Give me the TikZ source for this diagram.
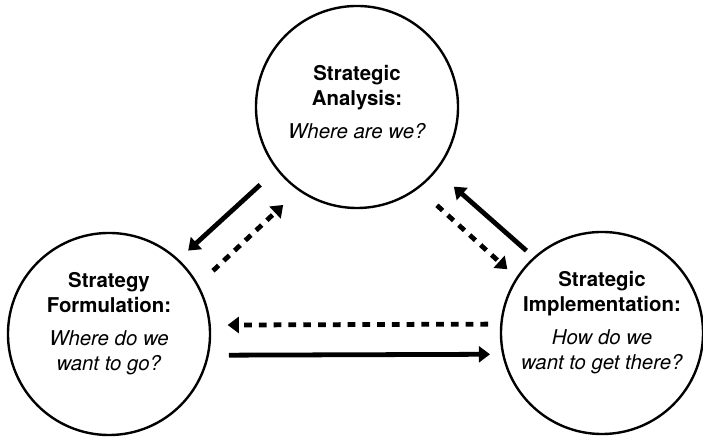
\documentclass[tikz,border=0pt]{standalone}
\usepackage{fontspec}
\setmainfont{TeX Gyre Heros}
\usetikzlibrary{arrows.meta,positioning}

\tikzset{
  phase/.style={draw, circle, line width=1.7pt, minimum size=5.05cm, inner sep=0pt},
  phasetext/.style={align=center, font=\fontsize{14.5}{17.5}\selectfont},
  flow/.style={line width=3.4pt, -{Triangle[length=0.28cm,width=0.4cm]}},
  feedback/.style={flow, dash pattern=on 5.5pt off 5pt},
}

\begin{document}
\begin{tikzpicture}[x=0.025cm, y=0.025cm]
            \useasboundingbox (0,0) rectangle (703,438);

            %the three phases
            \node[phase] (ana) at (357,331) {};
            \node[phase] (form) at (109,104) {};
            \node[phase] (impl) at (602,105) {};

            \node[phasetext] (anatxt) at ([yshift=0.12cm]ana.center)
                {\textbf{Strategic}\\\textbf{Analysis:}\\[6pt]\textit{Where are we?}};
            \node[phasetext] (formtxt) at ([yshift=0.26cm]form.center)
                {\textbf{Strategy}\\\textbf{Formulation:}\\[6pt]\textit{Where do we}\\\textit{want to go?}};
            \node[phasetext] (impltxt) at ([yshift=0.26cm]impl.center)
                {\textbf{Strategic}\\\textbf{Implementation:}\\[6pt]\textit{How do we}\\\textit{want to get there?}};

            %analysis <-> formulation
            \draw[flow, shorten <=0.55cm, shorten >=0.32cm] (ana.218) -- (form.47);
            \draw[feedback, shorten <=0.5cm, shorten >=0.52cm] (form.29) -- (ana.235);

            %implementation <-> analysis
            \draw[flow, shorten <=0.24cm, shorten >=0.58cm] (impl.132) -- (ana.321);
            \draw[feedback, shorten <=0.62cm, shorten >=0.3cm] (ana.307) -- (impl.147);

            %formulation <-> implementation
            \draw[feedback, shorten <=0.3cm, shorten >=0.42cm] (impl.175) -- (form.5);
            \draw[flow, shorten <=0.5cm, shorten >=0.3cm] (form.348) -- (impl.192);
        \end{tikzpicture}
\end{document}
